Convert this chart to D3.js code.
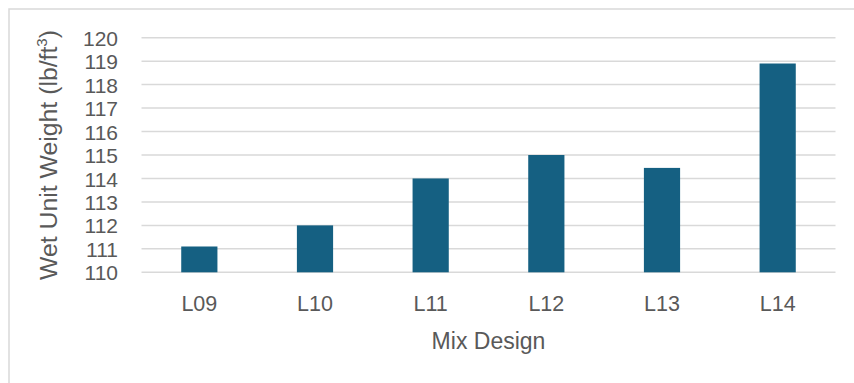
<!DOCTYPE html>
<html>
<head>
<meta charset="utf-8">
<script src="https://cdn.jsdelivr.net/npm/d3@7"></script>
<style>
  html, body { margin: 0; padding: 0; background: #ffffff; }
  svg { display: block; }
  text { font-family: "Liberation Sans", Arial, sans-serif; fill: #595959; }
</style>
</head>
<body>
<svg id="chart" width="854" height="383"></svg>
<script>
// Wet unit weight per mix design
const categories = ["L09", "L10", "L11", "L12", "L13", "L14"];
const wetUnitWeight = [111.1, 112.0, 114.0, 115.0, 114.45, 118.9];
const yTicks = [110, 111, 112, 113, 114, 115, 116, 117, 118, 119, 120];
const xTitle = "Mix Design";
const yTitle = "Wet Unit Weight (lb/ft";

const width = 854, height = 383;
const plot = { left: 141.5, right: 835.5, top: 37.7, bottom: 272.3 };

const svg = d3.select("#chart");

// chart area frame
svg.append("rect")
  .attr("x", 9).attr("y", 9)
  .attr("width", 900).attr("height", 420)
  .attr("fill", "#ffffff")
  .attr("stroke", "#d9d9d9")
  .attr("stroke-width", 1.5);

const x = d3.scaleBand()
  .domain(categories)
  .range([plot.left, plot.right])
  .paddingInner(0.687)
  .paddingOuter(0.3435);

const y = d3.scaleLinear()
  .domain([110, 120])
  .range([plot.bottom, plot.top]);

// horizontal gridlines
svg.append("g")
  .selectAll("line")
  .data(yTicks)
  .join("line")
  .attr("x1", plot.left).attr("x2", plot.right)
  .attr("y1", d => y(d)).attr("y2", d => y(d))
  .attr("stroke", "#d9d9d9")
  .attr("stroke-width", 1.5);

// bars
svg.append("g")
  .selectAll("rect")
  .data(categories.map((c, i) => ({ c, v: wetUnitWeight[i] })))
  .join("rect")
  .attr("x", d => x(d.c))
  .attr("width", x.bandwidth())
  .attr("y", d => y(d.v))
  .attr("height", d => y(110) - y(d.v))
  .attr("fill", "#156082");

// y axis labels
const yAxis = d3.axisLeft(y).tickValues(yTicks).tickSize(0).tickPadding(0)
  .tickFormat(d3.format("d"));
const gy = svg.append("g")
  .attr("transform", `translate(118,0)`)
  .call(yAxis);
gy.select(".domain").remove();
gy.selectAll("text")
  .attr("font-size", 21)
  .attr("font-family", "Liberation Sans, Arial, sans-serif")
  .attr("fill", "#595959")
  .attr("dy", "0.36em");

// x axis labels
const xAxis = d3.axisBottom(x).tickSize(0).tickPadding(0);
const gx = svg.append("g")
  .attr("transform", `translate(0,${plot.bottom})`)
  .call(xAxis);
gx.select(".domain").remove();
gx.selectAll("text")
  .attr("font-size", 21.5)
  .attr("font-family", "Liberation Sans, Arial, sans-serif")
  .attr("fill", "#595959")
  .attr("dy", null)
  .attr("y", 38.5);

// axis titles
svg.append("text")
  .attr("x", (plot.left + plot.right) / 2)
  .attr("y", 349)
  .attr("text-anchor", "middle")
  .attr("font-size", 23)
  .text(xTitle);

const yt = svg.append("text")
  .attr("transform", `translate(57,${(plot.top + plot.bottom) / 2}) rotate(-90)`)
  .attr("text-anchor", "middle")
  .attr("font-size", 24.8);
yt.append("tspan").text(yTitle);
yt.append("tspan").attr("font-size", 15).attr("dy", -10).text("3");
yt.append("tspan").attr("dy", 10).text(")");
</script>
</body>
</html>
